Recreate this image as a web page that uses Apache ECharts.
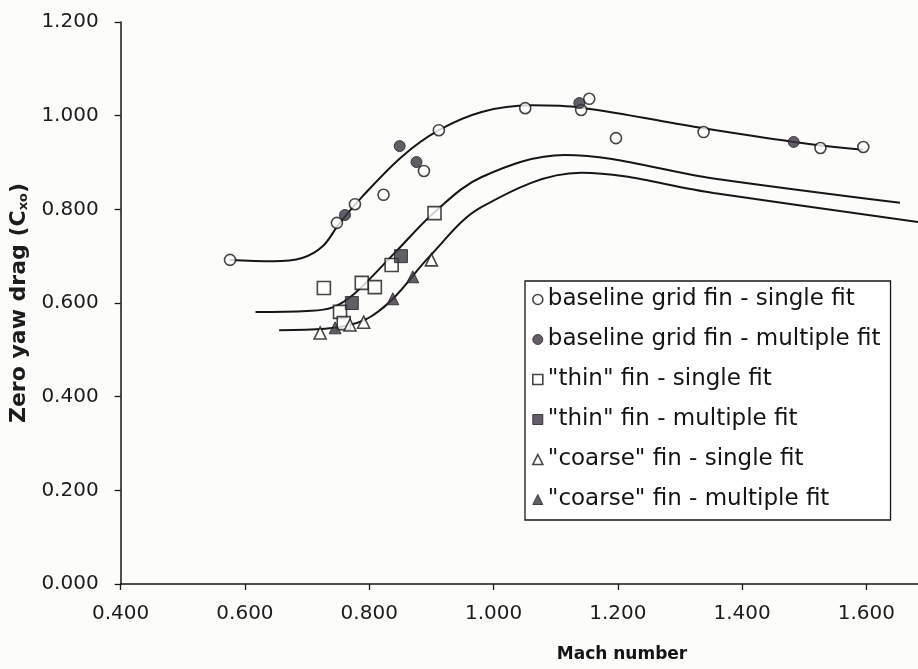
<!DOCTYPE html>
<html>
<head>
<meta charset="utf-8">
<script src="https://cdn.jsdelivr.net/npm/echarts@6/dist/echarts.min.js"></script>
<style>html,body{margin:0;padding:0;background:#fcfcfb;}#c{width:918px;height:669px;}</style>
</head>
<body>
<div id="c"></div>
<script>
// ---- data ----
const xTickLabels = ['0.400','0.600','0.800','1.000','1.200','1.400','1.600'];
const yTickLabels = ['0.000','0.200','0.400','0.600','0.800','1.000','1.200'];

const baselineSingle = [[0.576,0.692],[0.748,0.771],[0.777,0.811],[0.823,0.831],[0.888,0.882],[0.912,0.969],[1.051,1.016],[1.141,1.012],[1.154,1.036],[1.197,0.952],[1.338,0.965],[1.526,0.931],[1.595,0.933]];
const baselineMultiple = [[0.761,0.788],[0.849,0.935],[0.876,0.901],[1.138,1.027],[1.483,0.944]];
const thinSingle = [[0.727,0.632],[0.753,0.581],[0.759,0.557],[0.788,0.643],[0.809,0.634],[0.836,0.681],[0.905,0.792]];
const thinMultiple = [[0.772,0.600],[0.851,0.700]];
const coarseSingle = [[0.721,0.536],[0.769,0.553],[0.791,0.559],[0.900,0.692]];
const coarseMultiple = [[0.745,0.547],[0.838,0.609],[0.870,0.656]];

const baselineFit = [[0.575,0.692],[0.645,0.689],[0.692,0.696],[0.725,0.721],[0.751,0.768],[0.788,0.826],[0.852,0.912],[0.912,0.969],[0.981,1.008],[1.061,1.022],[1.141,1.017],[1.338,0.973],[1.483,0.944],[1.595,0.927]];
const thinFit = [[0.617,0.581],[0.700,0.583],[0.740,0.590],[0.777,0.621],[0.841,0.707],[0.905,0.794],[0.981,0.869],[1.114,0.916],[1.354,0.866],[1.654,0.814]];
const coarseFit = [[0.655,0.542],[0.729,0.545],[0.793,0.564],[0.841,0.613],[0.896,0.698],[0.981,0.805],[1.141,0.878],[1.354,0.835],[1.683,0.773]];

const names = ['baseline grid fin - single fit','baseline grid fin - multiple fit','"thin" fin - single fit','"thin" fin - multiple fit','"coarse" fin - single fit','"coarse" fin - multiple fit'];

const FONT = 'DejaVu Sans';
const INK = '#161616';
const FILL = '#3b3441';
const openStyle = {color:'#ffffff', borderColor:INK, borderWidth:1.6};
const fillStyle = {color:FILL, borderColor:'#222', borderWidth:1};

function scatter(name, data, symbol, size, style){
  return {type:'scatter', name:name, data:data, symbol:symbol, symbolSize:size, itemStyle:style, z:5};
}
function fit(data){
  return {type:'line', data:data, symbol:'none', smooth:0.35, lineStyle:{color:INK, width:2}, silent:true, z:3};
}

const chart = echarts.init(document.getElementById('c'));
chart.setOption({
  backgroundColor:'#fcfcfb',
  animation:false,
  grid:{left:118, right:0, top:22, bottom:85},
  xAxis:{
    type:'value', min:0.4, max:1.683, interval:0.2,
    axisLine:{show:true, lineStyle:{color:INK, width:1.5}},
    axisTick:{show:true, inside:false, length:6, lineStyle:{color:INK, width:1.3}},
    splitLine:{show:false},
    axisLabel:{showMaxLabel:false, margin:20, color:'#1c1c1c', fontFamily:FONT, fontSize:20,
      formatter:function(v){const i=Math.round((v-0.4)/0.2); return xTickLabels[i]!==undefined?xTickLabels[i]:'';}}
  },
  yAxis:{
    type:'value', min:0, max:1.2, interval:0.2,
    name:'{a|Zero yaw drag (C}{s|xo}{a|)}',
    nameLocation:'middle', nameGap:90,
    nameTextStyle:{rich:{a:{fontFamily:FONT, fontSize:22, fontWeight:'bold', color:'#1c1c1c'}, s:{fontFamily:FONT, fontSize:13, fontWeight:'bold', color:'#1c1c1c', padding:[10,0,0,0]}}},
    axisLine:{show:true, lineStyle:{color:INK, width:1.5}},
    axisTick:{show:true, inside:false, length:6, lineStyle:{color:INK, width:1.3}},
    splitLine:{show:false},
    axisLabel:{margin:22, color:'#1c1c1c', fontFamily:FONT, fontSize:20,
      formatter:function(v){const i=Math.round(v/0.2); return yTickLabels[i]!==undefined?yTickLabels[i]:'';}}
  },
  legend:{
    orient:'vertical', left:525, top:281,
    itemWidth:10, itemHeight:10, itemGap:17,
    padding:[7,10,9,7],
    borderColor:INK, borderWidth:1.3, backgroundColor:'#ffffff',
    textStyle:{fontFamily:FONT, fontSize:23, color:'#141414'},
    data:[
      {name:names[0], icon:'circle', itemStyle:openStyle},
      {name:names[1], icon:'circle', itemStyle:fillStyle},
      {name:names[2], icon:'rect', itemStyle:openStyle},
      {name:names[3], icon:'rect', itemStyle:fillStyle},
      {name:names[4], icon:'triangle', itemStyle:openStyle},
      {name:names[5], icon:'triangle', itemStyle:fillStyle}
    ]
  },
  graphic:[{type:'text', x:622, y:655, style:{text:'Mach number', fontFamily:FONT, fontWeight:'bold', fontSize:17, fill:'#141414', align:'center', verticalAlign:'middle'}}],
  series:[
    fit(baselineFit), fit(thinFit), fit(coarseFit),
    scatter(names[0], baselineSingle, 'circle', 11, openStyle),
    scatter(names[1], baselineMultiple, 'circle', 11, fillStyle),
    scatter(names[2], thinSingle, 'rect', 13, openStyle),
    scatter(names[3], thinMultiple, 'rect', 13, fillStyle),
    scatter(names[4], coarseSingle, 'triangle', 12, openStyle),
    scatter(names[5], coarseMultiple, 'triangle', 12, fillStyle)
  ]
});
</script>
</body>
</html>
